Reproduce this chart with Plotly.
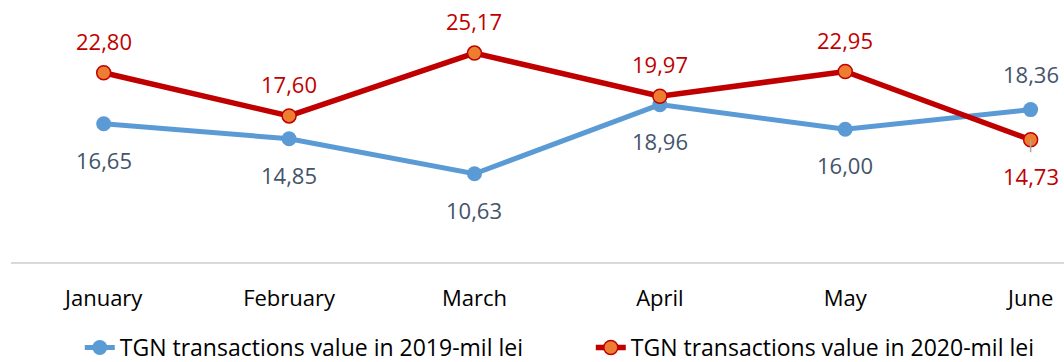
import plotly.graph_objects as go

months = ["January", "February", "March", "April", "May", "June"]
values_2019 = [16.65, 14.85, 10.63, 18.96, 16.00, 18.36]
values_2020 = [22.80, 17.60, 25.17, 19.97, 22.95, 14.73]
name_2019 = "TGN transactions value in 2019-mil lei"
name_2020 = "TGN transactions value in 2020-mil lei"

# label placement: +1 above the point, -1 below it
side_2019 = [-1, -1, -1, -1, -1, 1]
side_2020 = [1, 1, 1, 1, 1, -1]

FONT = "Open Sans"
BLUE = "#5B9BD5"
RED = "#C00000"
ORANGE = "#ED7D31"
BLUE_TXT = "#44546A"


def fmt(v):
    return f"{v:.2f}".replace(".", ",")


fig = go.Figure()
fig.add_trace(go.Scatter(
    x=months, y=values_2019, name=name_2019, mode="lines+markers",
    line=dict(color=BLUE, width=5),
    marker=dict(color=BLUE, size=15, line=dict(width=0)),
    hoverinfo="skip",
))
fig.add_trace(go.Scatter(
    x=months, y=values_2020, name=name_2020, mode="lines+markers",
    line=dict(color=RED, width=5.5),
    marker=dict(color=ORANGE, size=14, line=dict(color=RED, width=1.5)),
    hoverinfo="skip",
))

annotations = []
for m, v, s in zip(months, values_2019, side_2019):
    annotations.append(dict(
        x=m, y=v, text=fmt(v), showarrow=False, yshift=36 * s,
        font=dict(family=FONT, size=22, color=BLUE_TXT),
    ))
for m, v, s in zip(months, values_2020, side_2020):
    annotations.append(dict(
        x=m, y=v, text=fmt(v), showarrow=False, yshift=32 if s > 0 else -36,
        font=dict(family=FONT, size=22, color=RED),
    ))
    if s < 0:
        # short leader line from the label up to the point
        annotations.append(dict(
            x=m, y=v, text="", showarrow=True, arrowhead=0, arrowwidth=1.5,
            arrowcolor="#A6A6A6", ax=0, ay=14, standoff=0,
        ))

fig.update_layout(
    width=1064, height=362,
    margin=dict(l=11, r=0, t=13, b=100),
    paper_bgcolor="white", plot_bgcolor="white",
    font=dict(family=FONT, size=22, color="#000000"),
    annotations=annotations,
    showlegend=True,
    legend=dict(
        orientation="h", xref="container", yref="container",
        x=0.075, xanchor="left", y=0.04, yanchor="middle",
        font=dict(family=FONT, size=23, color="#000000"),
        entrywidth=466, entrywidthmode="pixels",
        itemclick=False, tracegroupgap=0,
    ),
    xaxis=dict(
        range=[-0.5, 5.18], showgrid=False, zeroline=False,
        showline=True, linecolor="#D9D9D9", linewidth=1.5,
        ticks="outside", ticklen=16, tickcolor="rgba(0,0,0,0)",
        tickfont=dict(family=FONT, size=22, color="#000000"),
        fixedrange=True,
    ),
    yaxis=dict(
        range=[0, 30], visible=False, showgrid=False, zeroline=False,
        fixedrange=True,
    ),
)

fig.write_html("out.html", config=dict(displayModeBar=False))
